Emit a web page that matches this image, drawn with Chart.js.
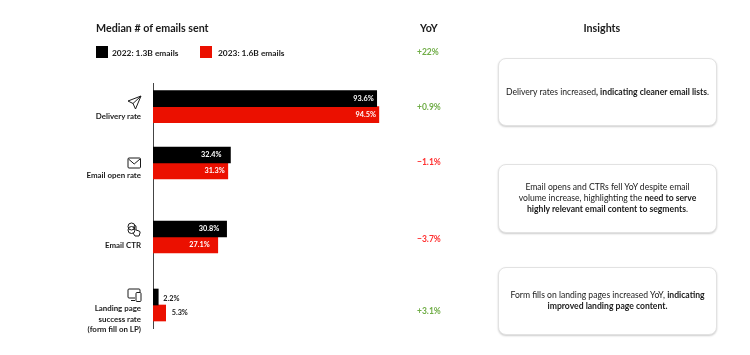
<!DOCTYPE html>
<html>
<head>
<meta charset="utf-8">
<script src="https://cdn.jsdelivr.net/npm/chart.js@4"></script>
<style>
  html, body { margin: 0; padding: 0; background: #fff; }
  body { width: 750px; height: 355px; position: relative; overflow: hidden; font-family: Lato, sans-serif; color: #1a1a1a; }
  #chart { position: absolute; left: 0; top: 0; }
  .abs { position: absolute; white-space: nowrap; }
  .head { font-size: 10.7px; font-weight: 700; line-height: 14px; top: 21px; }
  .key { font-size: 8.4px; font-weight: 700; line-height: 12px; top: 47px; }
  .swatch { width: 12px; height: 12px; top: 46px; }
  .yoy { font-size: 8.5px; font-weight: 700; line-height: 12px; left: 417px; }
  .card { left: 498px; width: 219px; box-sizing: border-box; background: #fff; border: 1px solid #e2e2e2; border-radius: 8px; box-shadow: 0 1px 2px rgba(0,0,0,.2); display: flex; align-items: center; justify-content: center; text-align: center; font-size: 8.6px; line-height: 11px; }
  .rowlabel { font-size: 7.9px; font-weight: 700; line-height: 10.5px; text-align: right; right: 609px; }
  svg.icon { position: absolute; fill: none; stroke: #1a1a1a; stroke-width: 1; }
</style>
</head>
<body>
<canvas id="chart" width="750" height="355"></canvas>
<div class="abs head" style="left:96px">Median # of emails sent</div>
<div class="abs head" style="left:420px">YoY</div>
<div class="abs head" style="left:583.5px">Insights</div>
<div id="overlay"></div>

<script>
// data
const categories = ['Delivery rate', 'Email open rate', 'Email CTR', 'Landing page<br>success rate<br>(form fill on LP)'];
const seriesNames = ['2022: 1.3B emails', '2023: 1.6B emails'];
const values2022 = [93.6, 32.4, 30.8, 2.2];
const values2023 = [94.5, 31.3, 27.1, 5.3];
const yoyLabels = ['+22%', '+0.9%', '\u22121.1%', '\u22123.7%', '+3.1%'];
const insights = [
  'Delivery rates increased<b>, indicating cleaner email lists</b>.',
  'Email opens and CTRs fell YoY despite email<br>volume increase, highlighting the <b>need to serve<br>highly relevant email content to segments</b>.',
  'Form fills on landing pages increased YoY, <b>indicating<br>improved landing page content.</b>'
];

// layout: the rows are not evenly spaced in the original
const rowCentres = [106.7, 163, 237, 305];
const rowLabelTops = [111, 170, 240, 303];
const yoyTops = [46, 100.5, 156, 233, 305];
const cardBoxes = [[58, 68], [164, 69], [267, 68]];
const iconTops = [95, 157, 222, 288];
const labelInsets = [[3, 9, 7.5, 0], [3, 3, 8, 0]];
const iconPaths = [
  '<path d="M14 1 L1 6 L6 8.5 L8.5 14 Z M14 1 L6 8.5"/>',
  '<rect x="1" y="1" width="12.5" height="10" rx="1"/><path d="M1.5 2 L7.2 7 L13 2"/>',
  '<circle cx="4.5" cy="4.5" r="3.5"/><circle cx="4.5" cy="8" r="3.5"/><path d="M7 8 V4.5 a1 1 0 0 1 2 0 V8 l3 1 a1.5 1.5 0 0 1 1 2 L12 14 H8 L6 11"/>',
  '<path d="M8 10 H2 a1 1 0 0 1 -1 -1 V2 a1 1 0 0 1 1 -1 H12 a1 1 0 0 1 1 1 V4"/><rect x="9" y="4.5" width="5" height="9" rx="1"/><path d="M4 12.5 H8"/>'
];

const BLACK = '#000000';
const RED = '#eb1000';
const GREEN = '#70ad47';
const YOY_RED = '#ff3030';

// value labels: inside the bar end, or beside it when the bar is too short
const valueLabels = {
  id: 'valueLabels',
  afterDatasetsDraw(chart) {
    const ctx = chart.ctx;
    ctx.save();
    ctx.font = '700 7.3px Lato, sans-serif';
    ctx.textBaseline = 'middle';
    chart.data.datasets.forEach((ds, d) => {
      chart.getDatasetMeta(d).data.forEach((bar, i) => {
        const text = ds.data[i].x.toFixed(1) + '%';
        if (ds.data[i].x > 10) {
          ctx.fillStyle = '#ffffff';
          ctx.textAlign = 'right';
          ctx.fillText(text, bar.x - labelInsets[d][i], bar.y);
        } else {
          ctx.fillStyle = '#1a1a1a';
          ctx.textAlign = 'left';
          ctx.fillText(text, bar.x + 5 + (d ? 1 : 0), bar.y + (d ? 0 : 2));
        }
      });
    });
    ctx.restore();
  }
};

function toPoints(values) {
  return values.map((v, i) => ({ x: v, y: rowCentres[i] }));
}

new Chart(document.getElementById('chart').getContext('2d'), {
  type: 'bar',
  data: {
    datasets: [
      { label: seriesNames[0], data: toPoints(values2022), backgroundColor: BLACK },
      { label: seriesNames[1], data: toPoints(values2023), backgroundColor: RED }
    ]
  },
  options: {
    indexAxis: 'y',
    responsive: false,
    animation: false,
    barThickness: 16,
    layout: { padding: { left: 152, right: 358, top: 83, bottom: 27 } },
    plugins: { legend: { display: false }, tooltip: { enabled: false } },
    scales: {
      x: { type: 'linear', display: false, min: 0, max: 100 },
      y: {
        type: 'linear',
        reverse: true,
        offset: false,
        min: 83,
        max: 328,
        grid: { display: false },
        ticks: { display: false },
        border: { display: true, color: '#444444', width: 1 },
        afterFit(scale) { scale.width = 1; }
      }
    }
  },
  plugins: [valueLabels]
});

// everything around the plot is plain html
const overlay = document.getElementById('overlay');
function addHtml(html) {
  overlay.insertAdjacentHTML('beforeend', html);
}

[[96, BLACK, 112], [200, RED, 218]].forEach((k, i) => {
  addHtml(`<div class="abs swatch" style="left:${k[0]}px;background:${k[1]}"></div>`);
  addHtml(`<div class="abs key" style="left:${k[2]}px">${seriesNames[i]}</div>`);
});
categories.forEach((c, i) => {
  addHtml(`<div class="abs rowlabel" style="top:${rowLabelTops[i]}px">${c}</div>`);
  addHtml(`<svg class="icon" style="left:126.5px;top:${iconTops[i]}px" width="15" height="15" viewBox="0 0 15 15">${iconPaths[i]}</svg>`);
});
yoyLabels.forEach((t, i) => {
  const col = t[0] === '+' ? GREEN : YOY_RED;
  addHtml(`<div class="abs yoy" style="top:${yoyTops[i]}px;color:${col}">${t}</div>`);
});
insights.forEach((t, i) => {
  addHtml(`<div class="abs card" style="top:${cardBoxes[i][0]}px;height:${cardBoxes[i][1]}px"><span>${t}</span></div>`);
});
</script>
</body>
</html>
